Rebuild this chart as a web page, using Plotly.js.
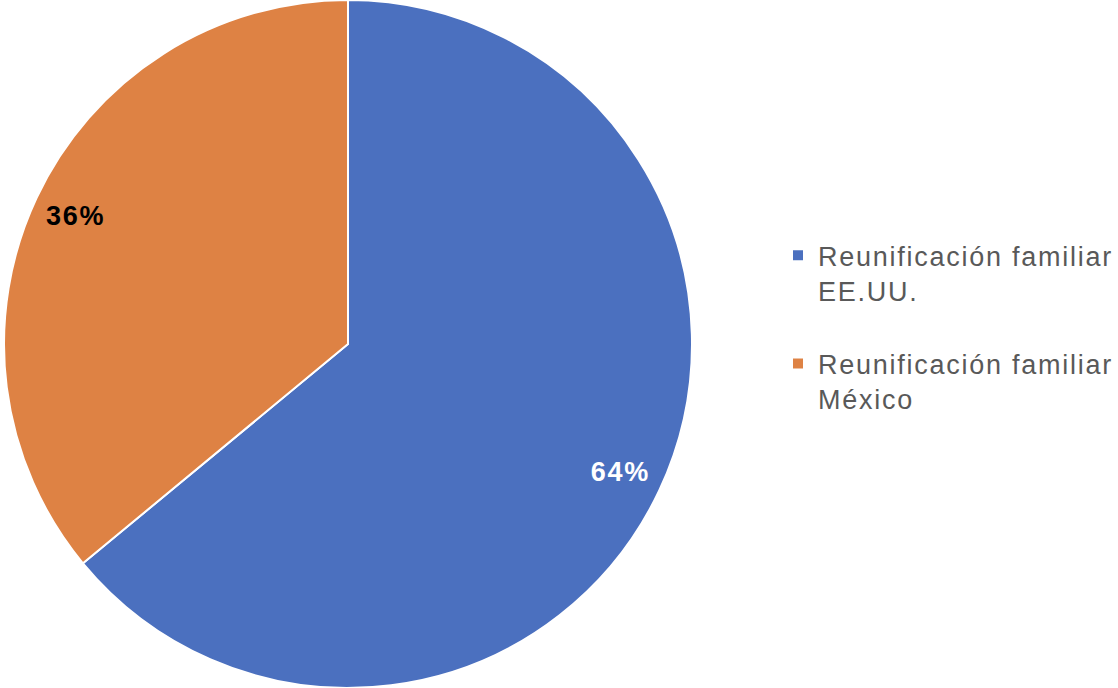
<!DOCTYPE html>
<html>
<head>
<meta charset="utf-8">
<script src="https://cdn.plot.ly/plotly-3.0.1.min.js"></script>
<style>
  html, body { margin: 0; padding: 0; background: #fff; }
  #chart { width: 1118px; height: 688px; }
  .legendtext { letter-spacing: 1.75px; }
  .slicetext { letter-spacing: 1.8px; }
</style>
</head>
<body>
<div id="chart"></div>
<script>
const categories = ["Reunificación familiar<br>EE.UU.<br> ", "Reunificación familiar<br>México<br> "];
const values = [64, 36];
const sliceColors = ["#4B70BF", "#DE8244"];
const labelColors = ["#FFFFFF", "#000000"];

const pieDomain = { x: [4 / 1118, 692 / 1118], y: [0, 1] };
const fontFamily = "Liberation Sans, Arial, sans-serif";

const data = [
  {
    // full pie (slices)
    type: "pie",
    labels: categories,
    values: values,
    sort: false,
    direction: "clockwise",
    rotation: 0,
    marker: { colors: sliceColors, line: { color: "#FFFFFF", width: 2 } },
    textinfo: "none",
    hoverinfo: "label+percent",
    showlegend: true,
    domain: pieDomain
  },
  {
    // transparent outer ring carrying only the percentage labels
    type: "pie",
    labels: categories,
    values: values,
    sort: false,
    direction: "clockwise",
    rotation: 0,
    hole: 0.75,
    marker: { colors: ["rgba(0,0,0,0)", "rgba(0,0,0,0)"], line: { width: 0 } },
    texttemplate: "%{percent:.0%}",
    textposition: "inside",
    insidetextorientation: "horizontal",
    insidetextfont: { family: fontFamily, size: 27, weight: "bold", color: labelColors },
    hoverinfo: "skip",
    showlegend: false,
    domain: pieDomain
  }
];

const layout = {
  width: 1118,
  height: 688,
  margin: { l: 0, r: 0, t: 0, b: 0, autoexpand: false },
  paper_bgcolor: "#FFFFFF",
  showlegend: true,
  legend: {
    x: 778 / 1118,
    xanchor: "left",
    y: 0.664,
    yanchor: "top",
    valign: "top",
    font: { family: fontFamily, size: 27, color: "#595959" },
    bgcolor: "rgba(0,0,0,0)"
  }
};

Plotly.newPlot("chart", data, layout, { displayModeBar: false, staticPlot: true });
</script>
</body>
</html>
